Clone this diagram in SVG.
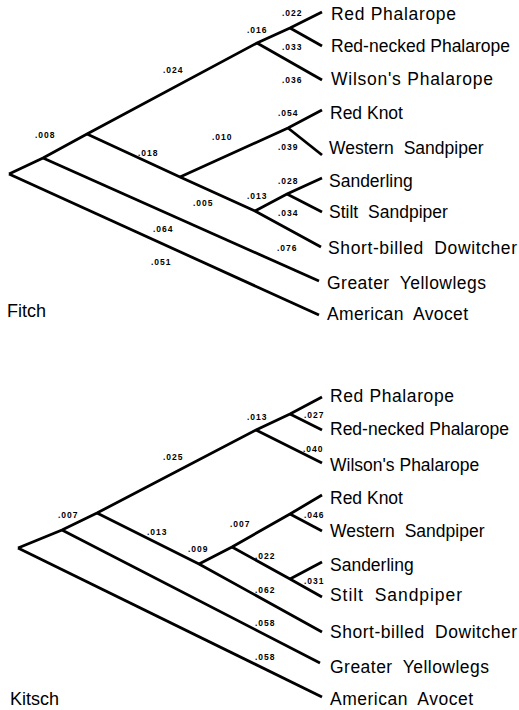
<svg xmlns="http://www.w3.org/2000/svg" width="519" height="710" viewBox="0 0 519 710">
<style>
.br{fill:none;stroke:#000;stroke-width:2.8;stroke-linejoin:miter;stroke-linecap:butt}
.tx{font-family:"Liberation Sans",Arial,sans-serif;font-size:17.5px;fill:#000}
.w{word-spacing:5px}
.bl{font-family:"Liberation Sans",Arial,sans-serif;font-size:8.5px;font-weight:bold;letter-spacing:1px;fill:#000}
.ti{font-family:"Liberation Sans",Arial,sans-serif;font-size:18px;fill:#000}
</style>
<rect width="519" height="710" fill="#fff"/>
<g id="fitch">
<g id="connectors-fitch">
<path class="br" d="M9,174 L43,158 L87,134 L257,43 L290,28 L322,12"/>
<path class="br" d="M290,28 L322,46"/>
<path class="br" d="M257,43 L322,80"/>
<path class="br" d="M87,134 L180,177 L255,211 L321,247"/>
<path class="br" d="M180,177 L288,128 L322,110"/>
<path class="br" d="M288,128 L322,155"/>
<path class="br" d="M255,211 L287,194 L322,178"/>
<path class="br" d="M287,194 L322,212"/>
<path class="br" d="M43,158 L319,281"/>
<path class="br" d="M9,174 L319,315"/>
<text class="bl" x="282" y="16">.022</text>
<text class="bl" x="247" y="32.5">.016</text>
<text class="bl" x="282" y="50">.033</text>
<text class="bl" x="282" y="83">.036</text>
<text class="bl" x="278" y="116">.054</text>
<text class="bl" x="278" y="150">.039</text>
<text class="bl" x="278" y="184">.028</text>
<text class="bl" x="247" y="199">.013</text>
<text class="bl" x="278" y="216">.034</text>
<text class="bl" x="277" y="251">.076</text>
<text class="bl" x="163" y="73">.024</text>
<text class="bl" x="35" y="138">.008</text>
<text class="bl" x="138" y="156">.018</text>
<text class="bl" x="212" y="140">.010</text>
<text class="bl" x="193" y="206">.005</text>
<text class="bl" x="153" y="232">.064</text>
<text class="bl" x="151" y="265">.051</text>
</g>
<g id="f-red-phalarope"><text class="tx" x="331" y="19.5" textLength="125">Red Phalarope</text></g>
<g id="f-red-necked-phalarope"><text class="tx" x="331" y="52">Red-necked Phalarope</text></g>
<g id="f-wilsons-phalarope"><text class="tx" x="331" y="85" textLength="162">Wilson's Phalarope</text></g>
<g id="f-red-knot"><text class="tx" x="330" y="119">Red Knot</text></g>
<g id="f-western-sandpiper"><text class="tx w" x="329" y="154">Western Sandpiper</text></g>
<g id="f-sanderling"><text class="tx" x="329" y="187">Sanderling</text></g>
<g id="f-stilt-sandpiper"><text class="tx w" x="329" y="218">Stilt Sandpiper</text></g>
<g id="f-short-billed-dowitcher"><text class="tx w" x="328" y="254" textLength="189">Short-billed Dowitcher</text></g>
<g id="f-greater-yellowlegs"><text class="tx w" x="327" y="289" textLength="159">Greater Yellowlegs</text></g>
<g id="f-american-avocet"><text class="tx w" x="327" y="320" textLength="141">American Avocet</text></g>
<text class="ti" x="7" y="317">Fitch</text>
</g>
<g id="kitsch">
<g id="connectors-kitsch">
<path class="br" d="M18,548 L62,530 L97,513 L256,430 L290,414 L322,397"/>
<path class="br" d="M290,414 L322,430"/>
<path class="br" d="M256,430 L322,463"/>
<path class="br" d="M97,513 L199,564 L322,632"/>
<path class="br" d="M199,564 L232,547 L290,514 L322,495"/>
<path class="br" d="M290,514 L322,531"/>
<path class="br" d="M232,547 L290,579 L322,597"/>
<path class="br" d="M290,579 L322,562"/>
<path class="br" d="M62,530 L320,663"/>
<path class="br" d="M18,548 L322,697"/>
<text class="bl" x="247" y="420">.013</text>
<text class="bl" x="304" y="418">.027</text>
<text class="bl" x="303" y="451.5">.040</text>
<text class="bl" x="163" y="460">.025</text>
<text class="bl" x="58" y="517.5">.007</text>
<text class="bl" x="147" y="535">.013</text>
<text class="bl" x="188" y="552">.009</text>
<text class="bl" x="230" y="527">.007</text>
<text class="bl" x="304" y="517.5">.046</text>
<text class="bl" x="255" y="559">.022</text>
<text class="bl" x="304" y="584">.031</text>
<text class="bl" x="255" y="592.5">.062</text>
<text class="bl" x="255" y="626">.058</text>
<text class="bl" x="255" y="659.5">.058</text>
</g>
<g id="k-red-phalarope"><text class="tx" x="330" y="402" textLength="124">Red Phalarope</text></g>
<g id="k-red-necked-phalarope"><text class="tx" x="330" y="435">Red-necked Phalarope</text></g>
<g id="k-wilsons-phalarope"><text class="tx" x="330" y="471">Wilson's Phalarope</text></g>
<g id="k-red-knot"><text class="tx" x="330" y="504">Red Knot</text></g>
<g id="k-western-sandpiper"><text class="tx w" x="330" y="537">Western Sandpiper</text></g>
<g id="k-sanderling"><text class="tx" x="330" y="571">Sanderling</text></g>
<g id="k-stilt-sandpiper"><text class="tx w" x="330" y="601" textLength="132">Stilt Sandpiper</text></g>
<g id="k-short-billed-dowitcher"><text class="tx w" x="330" y="638" textLength="187">Short-billed Dowitcher</text></g>
<g id="k-greater-yellowlegs"><text class="tx w" x="330" y="673" textLength="159">Greater Yellowlegs</text></g>
<g id="k-american-avocet"><text class="tx w" x="330" y="705" textLength="143">American Avocet</text></g>
<text class="ti" x="10" y="705">Kitsch</text>
</g>
</svg>
